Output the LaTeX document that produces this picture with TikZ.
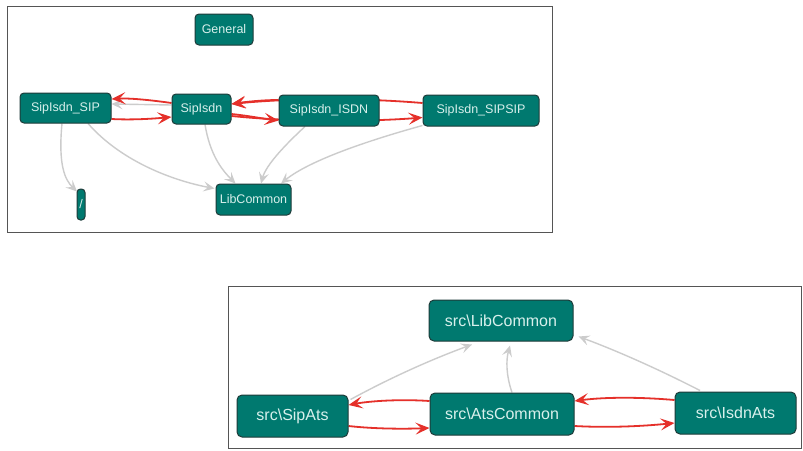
\documentclass[tikz,border=0pt]{standalone}
\usepackage{fontspec}
\setmainfont{Liberation Sans}
\usetikzlibrary{arrows.meta,calc}
\pgfdeclarelayer{back}
\pgfdeclarelayer{bg}
\pgfsetlayers{back,bg,main}
\definecolor{tealfill}{HTML}{00796F}
\definecolor{tealborder}{HTML}{1E3B39}
\definecolor{boxtext}{HTML}{D8F0EC}
\definecolor{redline}{HTML}{E5302A}
\definecolor{grayline}{HTML}{CCCCCC}
\definecolor{framecol}{HTML}{555555}
\begin{document}
\begin{tikzpicture}[x=1pt,y=-1pt,
  box/.style={draw=tealborder,fill=tealfill,line width=1pt,rounded corners=4pt,text=boxtext,inner sep=0pt,font=\fontsize{12.5}{14}\selectfont},
  bigbox/.style={box,rounded corners=5pt,font=\fontsize{16}{18}\selectfont},
  redarr/.style={draw=redline,line width=1.8pt,-{Stealth[length=14pt,width=12pt,inset=6pt]}},
  grayarr/.style={draw=grayline,line width=1.4pt,-{Stealth[length=11pt,width=10pt,inset=4.5pt]}}]
\useasboundingbox (0,0) rectangle (803,450);
\begin{pgfonlayer}{back}
\fill[white] (0,0) rectangle (803,450);
\draw[framecol,line width=1pt] (7,6) rectangle (552,232);
\draw[framecol,line width=1pt] (228,286) rectangle (801.5,448);
\end{pgfonlayer}

% top graph nodes
\node[box,minimum width=58pt,minimum height=31pt] (gen) at (224,29.5) {General};
\node[box,minimum width=91pt,minimum height=30pt] (sip) at (65.5,108) {SipIsdn\_SIP};
\node[box,minimum width=59pt,minimum height=30pt] (si) at (201.5,109) {SipIsdn};
\node[box,minimum width=100pt,minimum height=31pt] (isdn) at (329,110.5) {SipIsdn\_ISDN};
\node[box,minimum width=116pt,minimum height=31pt] (sipsip) at (481,110.5) {SipIsdn\_SIPSIP};
\node[box,minimum width=75pt,minimum height=31pt] (lib) at (253.5,199.5) {LibCommon};
\node[box,minimum width=8pt,minimum height=31pt,rounded corners=3.5pt] (slash) at (81,204.5) {/};

% bottom graph nodes
\node[bigbox,minimum width=144pt,minimum height=41pt] (blib) at (501,320.5) {src\textbackslash LibCommon};
\node[bigbox,minimum width=111pt,minimum height=42pt] (bsip) at (292.5,416) {src\textbackslash SipAts};
\node[bigbox,minimum width=144pt,minimum height=42pt] (bats) at (502,414) {src\textbackslash AtsCommon};
\node[bigbox,minimum width=121pt,minimum height=42pt] (bisdn) at (735.5,413) {src\textbackslash IsdnAts};

\begin{pgfonlayer}{bg}
% top gray edges
\draw[grayarr] ($(si.west)+(0,-4)$) -- ($(sip.east)+(0,-4)$);
\draw[grayarr] ($(sip.south)+(-3.5,0)$) .. controls (58,165) and (65,180) .. ($(slash.north)+(-4,3)$);
\draw[grayarr] ($(sip.south)+(22.5,0)$) .. controls (120,160) and (170,180) .. ($(lib.north west)+(-1,5)$);
\draw[grayarr] ($(si.south)+(3.5,0)$) .. controls (210,155) and (222,170) .. ($(lib.north)+(-18,0)$);
\draw[grayarr] ($(isdn.south)+(-24,0)$) .. controls (285,145) and (266,165) .. ($(lib.north)+(7.5,0)$);
\draw[grayarr] ($(sipsip.south west)+(0,-1)$) .. controls (370,140) and (310,160) .. ($(lib.north)+(27.5,0)$);
% top red edges
\draw[redarr] ($(si.west)+(0,-6)$) .. controls (150,100) and (130,98) .. ($(sip.east)+(0,-9)$);
\draw[redarr] ($(sip.east)+(0,11)$) .. controls (130,120) and (150,119) .. ($(si.west)+(0,8)$);
\draw[redarr] ($(isdn.west)+(0,-10.5)$) .. controls (262,100) and (245,102) .. ($(si.east)+(0,-5)$);
\draw[redarr] ($(sipsip.west)+(0,-7.5)$) .. controls (350,97) and (280,99) .. ($(si.east)+(0,-5)$);
\draw[redarr] ($(si.east)+(0,5)$) .. controls (250,116) and (265,119) .. ($(isdn.west)+(0,10)$);
\draw[redarr] ($(si.east)+(0,7)$) .. controls (300,123) and (380,121) .. ($(sipsip.west)+(0,7)$);
% bottom gray edges
\draw[grayarr] ($(bsip.north east)+(2,5)$) .. controls (390,378) and (430,360) .. ($(blib.south)+(-29,3)$);
\draw[grayarr] ($(bats.north)+(10,0)$) .. controls (506,375) and (506,360) .. ($(blib.south)+(9,4)$);
\draw[grayarr] ($(bisdn.north)+(-35.5,-1)$) .. controls (660,370) and (620,352) .. ($(blib.south east)+(5,-5)$);
% bottom red edges
\draw[redarr] ($(bats.west)+(0,-13)$) .. controls (400,399) and (370,401) .. ($(bsip.east)+(0,-11)$);
\draw[redarr] ($(bsip.east)+(0,10)$) .. controls (375,429) and (405,429) .. ($(bats.west)+(0,14)$);
\draw[redarr] ($(bisdn.west)+(0,-13)$) .. controls (640,397) and (605,397) .. ($(bats.east)+(0,-13)$);
\draw[redarr] ($(bats.east)+(0,12)$) .. controls (610,428) and (645,426) .. ($(bisdn.west)+(0,10)$);
\end{pgfonlayer}
\end{tikzpicture}
\end{document}
